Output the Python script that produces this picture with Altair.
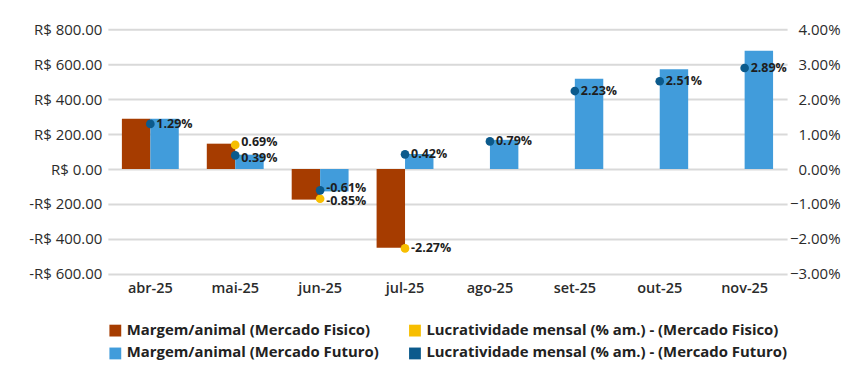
import altair as alt
import pandas as pd

months = ["abr-25", "mai-25", "jun-25", "jul-25", "ago-25", "set-25", "out-25", "nov-25"]
margem_fisico = [287, 145, -175, -451, None, None, None, None]
margem_futuro = [287, 82, -128, 86, 167, 516, 571, 676]
lucr_fisico = [None, 0.69, -0.85, -2.27, None, None, None, None]
lucr_futuro = [1.29, 0.39, -0.61, 0.42, 0.79, 2.23, 2.51, 2.89]

S_MF = "Margem/animal (Mercado Fisico)"
S_LF = "Lucratividade mensal (% am.) - (Mercado Fisico)"
S_MU = "Margem/animal (Mercado Futuro)"
S_LU = "Lucratividade mensal (% am.) - (Mercado Futuro)"
series_order = [S_MF, S_MU, S_LF, S_LU]
colors = ["#A63C00", "#419CDB", "#F7BE00", "#0B5A8C"]

bars = []
for m, a, b in zip(months, margem_fisico, margem_futuro):
    if a is not None:
        bars.append({"mes": m, "serie": S_MF, "valor": a})
    if b is not None:
        bars.append({"mes": m, "serie": S_MU, "valor": b})
bars = pd.DataFrame(bars)

pts = []
for m, a, b in zip(months, lucr_fisico, lucr_futuro):
    if a is not None:
        pts.append({"mes": m, "serie": S_LF, "pct": a, "lbl": f"{a:.2f}%"})
    if b is not None:
        pts.append({"mes": m, "serie": S_LU, "pct": b, "lbl": f"{b:.2f}%"})
pts = pd.DataFrame(pts)

FONT = "Open Sans"

xenc = alt.X("mes:N", sort=months, title=None,
             scale=alt.Scale(paddingInner=0.33, paddingOuter=0.165),
             axis=alt.Axis(labelAngle=0, domain=False, ticks=False, labelPadding=8,
                           labelFontSize=14.5, labelFont=FONT, labelFontWeight=600,
                           labelColor="#2b2b2b"))

color = alt.Color("serie:N", scale=alt.Scale(domain=series_order, range=colors),
                  title=None,
                  legend=alt.Legend(orient="none", legendX=0, legendY=294, columns=2,
                                    direction="vertical",
                                    symbolType="square", symbolSize=140,
                                    symbolStrokeWidth=0,
                                    labelFont=FONT, labelFontSize=14.9, labelFontWeight=700,
                                    labelColor="#222222", rowPadding=7.2, columnPadding=28,
                                    labelLimit=450))

bar_layer = alt.Chart(bars).mark_bar().encode(
    x=xenc,
    xOffset=alt.XOffset("serie:N", sort=[S_MF, S_MU], scale=alt.Scale(paddingInner=0)),
    y=alt.Y("valor:Q", title=None,
            scale=alt.Scale(domain=[-600, 800], nice=False, zero=False),
            axis=alt.Axis(values=list(range(-600, 801, 200)), grid=True, gridColor="#d9d9d9",
                          gridWidth=2, domain=False, ticks=False, labelPadding=6,
                          labelFontSize=15, labelFont=FONT, labelFontWeight=500, labelColor="#2b2b2b",
                          labelExpr="(datum.value < 0 ? '-' : '') + 'R$ ' + format(abs(datum.value), '.2f')")),
    color=color,
)

yscale = alt.Scale(domain=[-3, 4], nice=False, zero=False)
yp = alt.Y("pct:Q", title=None, scale=yscale,
           axis=alt.Axis(orient="right", values=list(range(-3, 5)), grid=False, domain=False,
                         ticks=False, labelPadding=53, labelAlign="right",
                         labelFontSize=15, labelFont=FONT, labelFontWeight=500, labelColor="#2b2b2b",
                         labelExpr="format(datum.value, '.2f') + '%'"))

pt_layer = alt.Chart(pts).mark_circle(size=75, opacity=1).encode(
    x=alt.X("mes:N", sort=months), y=yp, color=color)

# labels of two close points in the same month are nudged slightly apart
txt_layer = alt.Chart(pts).transform_joinaggregate(
    pmin="min(pct)", pmax="max(pct)", n="count()", groupby=["mes"]
).transform_calculate(
    ylab=f"datum.n == 2 && (datum.pmax - datum.pmin) < 0.5 ? "
         f"datum.pct + (datum.pct == datum.pmax ? 0.07 : -0.07) : datum.pct"
).mark_text(align="left", baseline="middle", dx=6, font=FONT,
            fontSize=12.5, fontWeight="bold", color="#1e1e1e").encode(
    x=alt.X("mes:N", sort=months),
    y=alt.Y("ylab:Q", title=None, scale=yscale,
            axis=alt.Axis(orient="right", values=list(range(-3, 5)), grid=False, domain=False,
                          ticks=False, labelPadding=53, labelAlign="right",
                          labelFontSize=15, labelFont=FONT, labelFontWeight=500, labelColor="#2b2b2b",
                          labelExpr="format(datum.value, '.2f') + '%'")),
    text="lbl:N")

right = alt.layer(pt_layer, txt_layer)

chart = alt.layer(bar_layer, right).resolve_scale(y="independent").properties(
    width=680, height=245,
    padding={"left": 100, "top": 21, "right": 70, "bottom": 90},
    autosize=alt.AutoSizeParams(type="none"),
    background="white",
).configure_view(stroke=None)

chart.save("out.html", embed_options={"renderer": "svg", "actions": False})
